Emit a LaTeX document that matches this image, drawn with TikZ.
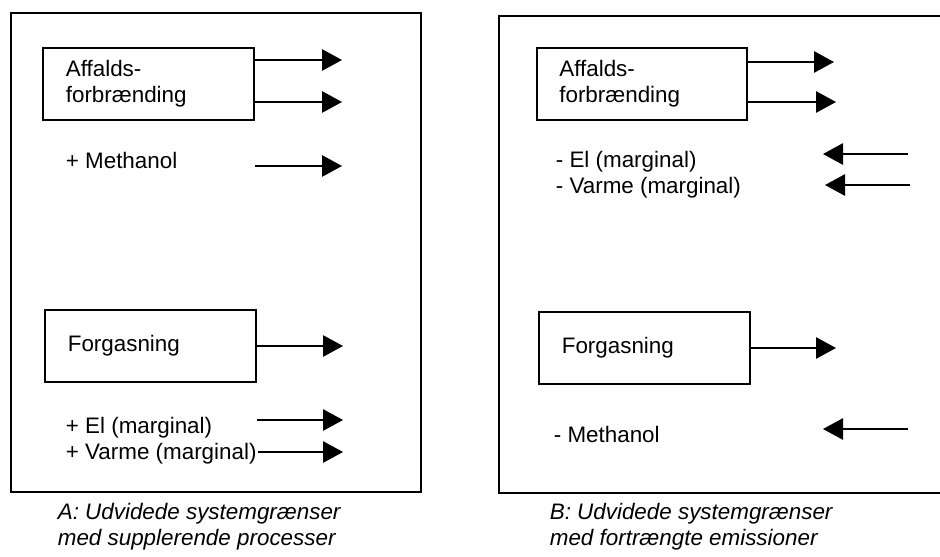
\documentclass[tikz,border=0pt]{standalone}
\usepackage{fontspec}
\setmainfont{Liberation Sans}
\usetikzlibrary{arrows.meta}

\begin{document}
\begin{tikzpicture}[x=0.75pt,y=-0.75pt,font=\fontsize{16.8}{19.5}\selectfont,line width=1.3pt,
  proc/.style={draw, minimum height=54pt, text width=124pt, inner xsep=17pt, align=left},
  txt/.style={anchor=base west, inner sep=0pt},
  caption/.style={anchor=north west, inner sep=0pt, align=left, font=\fontsize{16.8}{19.5}\selectfont\itshape},
  flow/.style={-{Triangle[length=15pt,width=16pt]}}]

\useasboundingbox (0,0) rectangle (940,557);

% A: supplerende processer
\draw (11,13) rectangle (421,492);

\node[proc] (affA) at (148.5,84) {Affalds-\\forbrænding};
\node[proc] (forA) at (150.5,346) {Forgasning};

\node[txt] (metA) at (65,168) {+ Methanol};
\node[txt] (elA) at (65,433) {+ El (marginal)};
\node[txt] (varA) at (65,459) {+ Varme (marginal)};

\coordinate (affA1) at (342,60);
\coordinate (affA2) at (342,102);
\coordinate (metA0) at (255,166);
\coordinate (metA1) at (342,166);
\coordinate (forA1) at (343,346);
\coordinate (elA0) at (257,420);
\coordinate (elA1) at (343,420);
\coordinate (varA0) at (258,452);
\coordinate (varA1) at (343,452);

\draw [flow] (affA.east |- affA1) -- (affA1);
\draw [flow] (affA.east |- affA2) -- (affA2);
\draw [flow] (metA0) -- (metA1);
\draw [flow] (forA.east) -- (forA1);
\draw [flow] (elA0) -- (elA1);
\draw [flow] (varA0) -- (varA1);

\node[caption] (capA) at (57,502) {A: Udvidede systemgrænser\\med supplerende processer};

% B: fortraengte emissioner
\draw (499,16) rectangle (945,493);

\node[proc] (affB) at (642,84) {Affalds-\\forbrænding};
\node[proc] (forB) at (644.5,348) {Forgasning};

\node[txt] (elB) at (555,167) {- El (marginal)};
\node[txt] (varB) at (555,193) {- Varme (marginal)};
\node[txt] (metB) at (553,442) {- Methanol};

\coordinate (affB1) at (834,62);
\coordinate (affB2) at (836,102);
\coordinate (forB1) at (836,348);
\coordinate (elB0) at (908,154);
\coordinate (elB1) at (823,154);
\coordinate (varB0) at (910,185);
\coordinate (varB1) at (825,185);
\coordinate (metB0) at (908,429);
\coordinate (metB1) at (823,429);

\draw [flow] (affB.east |- affB1) -- (affB1);
\draw [flow] (affB.east |- affB2) -- (affB2);
\draw [flow] (forB.east) -- (forB1);
\draw [flow] (elB0) -- (elB1);
\draw [flow] (varB0) -- (varB1);
\draw [flow] (metB0) -- (metB1);

\node[caption] (capB) at (549,502) {B: Udvidede systemgrænser\\med fortrængte emissioner};

\end{tikzpicture}
\end{document}
